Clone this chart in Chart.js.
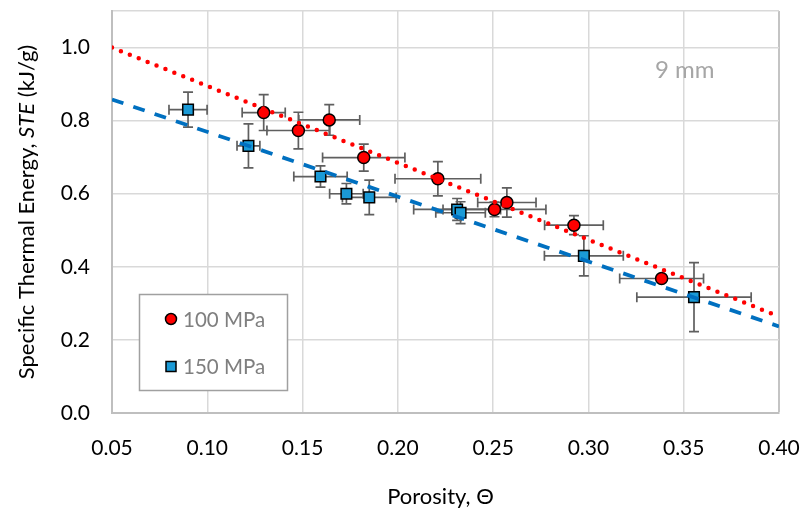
<!DOCTYPE html>
<html>
<head>
<meta charset="utf-8">
<script src="https://cdn.jsdelivr.net/npm/chart.js@4/dist/chart.umd.min.js"></script>
<style>
  html, body { margin: 0; padding: 0; background: #fff; }
  #wrap { width: 804px; height: 510px; }
</style>
</head>
<body>
<div id="wrap"><canvas id="c" width="804" height="510"></canvas></div>
<script>
// Porosity (x) and specific thermal energy (y) with their uncertainties
const p100X   = [0.1296, 0.1478, 0.1640, 0.1821, 0.2210, 0.2507, 0.2572, 0.2924, 0.3384];
const p100Y   = [0.822, 0.773, 0.802, 0.699, 0.641, 0.557, 0.576, 0.514, 0.368];
const p100XErr = [0.0113, 0.0165, 0.0160, 0.0216, 0.0225, 0.0270, 0.0153, 0.0154, 0.0220];
const p100YErr = [0.049, 0.050, 0.042, 0.037, 0.047, 0.020, 0.040, 0.026, 0.008];

const p150X   = [0.0899, 0.1216, 0.1594, 0.1730, 0.1850, 0.2311, 0.2329, 0.2976, 0.3554];
const p150Y   = [0.830, 0.731, 0.647, 0.600, 0.590, 0.557, 0.548, 0.430, 0.317];
const p150XErr = [0.0100, 0.0060, 0.0140, 0.0088, 0.0141, 0.0228, 0.0130, 0.0207, 0.0300];
const p150YErr = [0.048, 0.060, 0.029, 0.028, 0.047, 0.030, 0.030, 0.055, 0.0945];

// Linear trend lines (end points)
const trend100X = [0.05, 0.40];
const trend100Y = [1.000, 0.264];
const trend150X = [0.05, 0.40];
const trend150Y = [0.858, 0.237];

const seriesNames = ['100 MPa', '150 MPa'];
const annotationText = '9 mm';
const xTitle = 'Porosity, \u0398';
const yTitleParts = [['Specific Thermal Energy, ', false], ['STE', true], [' (kJ/g)', false]];

const FONT = 'Lato, "Open Sans", sans-serif';

const pts = (xs, ys) => xs.map((x, i) => ({ x: x, y: ys[i] }));

// Error bars under the markers
const errorBars = {
  id: 'errorBars',
  beforeDatasetsDraw(chart) {
    const { ctx, scales: { x, y } } = chart;
    const cap = 5;
    const sets = [[p100X, p100Y, p100XErr, p100YErr], [p150X, p150Y, p150XErr, p150YErr]];
    ctx.save();
    ctx.strokeStyle = '#5f5f5f';
    ctx.lineWidth = 1.7;
    sets.forEach(([xs, ys, xe, ye]) => {
      xs.forEach((xv, i) => {
        const px = x.getPixelForValue(xv), py = y.getPixelForValue(ys[i]);
        const x0 = x.getPixelForValue(xv - xe[i]), x1 = x.getPixelForValue(xv + xe[i]);
        const y0 = y.getPixelForValue(ys[i] - ye[i]), y1 = y.getPixelForValue(ys[i] + ye[i]);
        ctx.beginPath();
        ctx.moveTo(x0, py); ctx.lineTo(x1, py);
        ctx.moveTo(x0, py - cap); ctx.lineTo(x0, py + cap);
        ctx.moveTo(x1, py - cap); ctx.lineTo(x1, py + cap);
        ctx.moveTo(px, y0); ctx.lineTo(px, y1);
        ctx.moveTo(px - cap, y0); ctx.lineTo(px + cap, y0);
        ctx.moveTo(px - cap, y1); ctx.lineTo(px + cap, y1);
        ctx.stroke();
      });
    });
    ctx.restore();
  }
};

// Axis titles, legend box and the annotation
const decorations = {
  id: 'decorations',
  afterDraw(chart) {
    const { ctx, chartArea: a } = chart;
    ctx.save();
    // x title
    ctx.fillStyle = '#000';
    ctx.font = '22px ' + FONT;
    ctx.textAlign = 'center';
    ctx.textBaseline = 'middle';
    ctx.fillText(xTitle, (a.left + a.right) / 2 - 5, 497);

    // y title with italic symbol
    ctx.translate(27, (a.top + a.bottom) / 2);
    ctx.rotate(-Math.PI / 2);
    ctx.textAlign = 'left';
    let total = 0;
    const widths = yTitleParts.map(([t, it]) => {
      ctx.font = (it ? 'italic ' : '') + '22px ' + FONT;
      const w = ctx.measureText(t).width; total += w; return w;
    });
    let cx = -total / 2;
    yTitleParts.forEach(([t, it], i) => {
      ctx.font = (it ? 'italic ' : '') + '22px ' + FONT;
      ctx.fillText(t, cx, 0);
      cx += widths[i];
    });
    ctx.restore();

    // legend
    ctx.save();
    const lx = a.left + 27.5, ly = a.top + 283.5, lw = 148, lh = 96;
    ctx.fillStyle = '#fff';
    ctx.fillRect(lx, ly, lw, lh);
    ctx.strokeStyle = '#a0a0a0';
    ctx.lineWidth = 1.5;
    ctx.strokeRect(lx, ly, lw, lh);
    const ds = [chart.data.datasets[2], chart.data.datasets[3]];
    ds.forEach((d, i) => {
      const my = ly + 24.5 + i * 47.5;
      const mx = lx + 31.5;
      ctx.fillStyle = d.backgroundColor;
      ctx.strokeStyle = d.borderColor;
      ctx.lineWidth = 1.5;
      ctx.beginPath();
      if (d.pointStyle === 'circle') {
        ctx.arc(mx, my, 5.5, 0, Math.PI * 2);
      } else {
        ctx.rect(mx - 5, my - 5, 10, 10);
      }
      ctx.fill(); ctx.stroke();
      ctx.fillStyle = '#7f7f7f';
      ctx.font = '20.5px ' + FONT;
      ctx.textAlign = 'left';
      ctx.textBaseline = 'middle';
      ctx.fillText(d.label, mx + 12, my + 1);
    });

    // annotation
    ctx.fillStyle = '#a6a6a6';
    ctx.font = '24px ' + FONT;
    ctx.textAlign = 'left';
    ctx.textBaseline = 'middle';
    ctx.fillText(annotationText, a.right - 124, a.top + 59);
    ctx.restore();
  }
};

new Chart(document.getElementById('c'), {
  type: 'scatter',
  data: {
    datasets: [
      {
        label: 'trend ' + seriesNames[0],
        type: 'line',
        data: pts(trend100X, trend100Y),
        borderColor: '#ff0000',
        borderWidth: 4.5,
        borderDash: [0, 9.6],
        borderCapStyle: 'round',
        pointRadius: 0,
        fill: false,
        order: 0
      },
      {
        label: 'trend ' + seriesNames[1],
        type: 'line',
        data: pts(trend150X, trend150Y),
        borderColor: '#0070c0',
        borderWidth: 3.8,
        borderDash: [12, 10.5],
        pointRadius: 0,
        fill: false,
        order: 1
      },
      {
        label: seriesNames[0],
        data: pts(p100X, p100Y),
        pointStyle: 'circle',
        pointRadius: 6,
        backgroundColor: '#ff0000',
        borderColor: '#000000',
        borderWidth: 1.5,
        order: 2
      },
      {
        label: seriesNames[1],
        data: pts(p150X, p150Y),
        pointStyle: 'rect',
        pointRadius: 7.5,
        backgroundColor: '#1b9ad6',
        borderColor: '#000000',
        borderWidth: 1.5,
        order: 3
      }
    ]
  },
  options: {
    responsive: false,
    animation: false,
    events: [],
    layout: { padding: { top: 11, right: 25, left: 0, bottom: 0 } },
    plugins: { legend: { display: false }, tooltip: { enabled: false } },
    scales: {
      x: {
        type: 'linear',
        min: 0.05, max: 0.40,
        afterFit(s) { s.height = 97; s.paddingLeft = 0; s.paddingRight = 0; },
        ticks: {
          stepSize: 0.05,
          padding: 23,
          color: '#000',
          font: { family: FONT, size: 21 },
          callback: v => v.toFixed(2)
        },
        grid: {
          drawTicks: false,
          color: ctx => (ctx.tick && Math.abs(ctx.tick.value - 0.40) < 1e-9) ? '#c4c4c4' : '#d9d9d9',
          lineWidth: ctx => (ctx.tick && Math.abs(ctx.tick.value - 0.40) < 1e-9) ? 2 : 1.5
        },
        border: { color: '#bfbfbf', width: 2 }
      },
      y: {
        type: 'linear',
        min: 0, max: 1.1,
        afterFit(s) { s.width = 112; s.paddingTop = 0; s.paddingBottom = 0; },
        ticks: {
          stepSize: 0.2,
          padding: 22,
          color: '#000',
          font: { family: FONT, size: 21 },
          callback: v => (Math.abs(v - 1.1) < 1e-9 ? '' : v.toFixed(1))
        },
        grid: { drawTicks: false, color: '#d9d9d9', lineWidth: 1.5 },
        border: { color: '#bfbfbf', width: 2 }
      }
    }
  },
  plugins: [errorBars, decorations]
});
</script>
</body>
</html>
